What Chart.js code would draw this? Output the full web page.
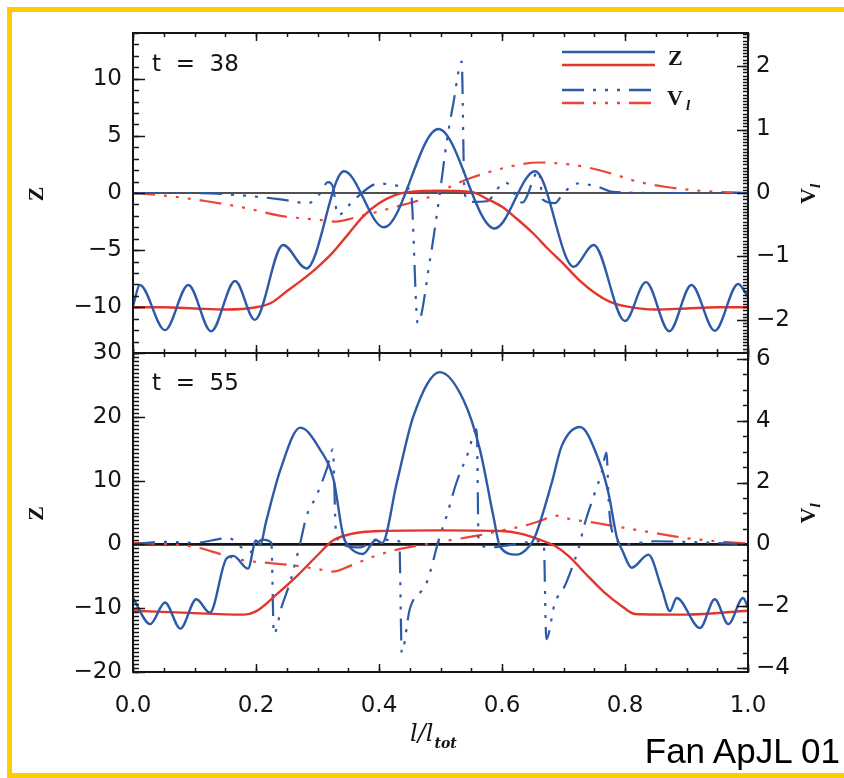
<!DOCTYPE html>
<html>
<head>
<meta charset="utf-8">
<title>Z and V_l along the tube</title>
<script src="https://cdn.jsdelivr.net/npm/chart.js@4.4.1/dist/chart.umd.min.js"></script>
<style>
  html, body { margin: 0; padding: 0; background: #fff; }
  body { width: 844px; height: 778px; position: relative; overflow: hidden; }
  #frame { position: absolute; left: 7px; top: 7px; width: 860px; height: 761px; border: 5px solid #ffcc00; }
  canvas { position: absolute; left: 0; top: 0; }
  #credit { position: absolute; right: 4px; top: 733px; font: 35px/35px "Liberation Sans", Arial, sans-serif; color: #000; }
</style>
</head>
<body>
<div id="frame"></div>
<canvas id="panel38" width="844" height="778"></canvas>
<canvas id="panel55" width="844" height="778"></canvas>
<div id="credit">Fan ApJL 01</div>

<script>
// ---------- t = 38 : positions along the tube (l/l_tot) and values ----------
const zBlue38X = [0, 0.011, 0.052, 0.09, 0.127, 0.166, 0.198, 0.244, 0.282, 0.343, 0.408, 0.4965, 0.588, 0.654, 0.7165, 0.749, 0.8, 0.834, 0.872, 0.908, 0.946, 0.984, 1];
const zBlue38 = [-9.9, -8.05, -12.0, -8.05, -12.1, -7.7, -11.1, -4.55, -6.6, 1.9, -3.0, 5.6, -3.1, 1.9, -6.45, -4.55, -11.2, -7.8, -12.1, -8.05, -12.05, -7.96, -9.1];

const zRed38X = [0, 0.05, 0.1, 0.15, 0.2, 0.225, 0.25, 0.275, 0.3, 0.325, 0.35, 0.375, 0.4, 0.425, 0.45, 0.5, 0.55, 0.575, 0.6, 0.625, 0.65, 0.675, 0.7, 0.725, 0.75, 0.775, 0.8, 0.85, 0.9, 0.95, 1];
const zRed38 = [-10, -10, -10.1, -10.2, -10, -9.6, -8.6, -7.6, -6.5, -5.2, -3.6, -2.0, -0.9, -0.2, 0.1, 0.2, 0.1, -0.5, -1.2, -2.3, -3.5, -4.9, -6.2, -7.6, -8.7, -9.5, -9.9, -10.2, -10.1, -10, -10];

const vBlue38X = [0, 0.1, 0.18, 0.24, 0.285, 0.303, 0.317, 0.325, 0.333, 0.36, 0.4, 0.44, 0.452, 0.463, 0.483, 0.499, 0.51, 0.521, 0.5345, 0.539, 0.55, 0.575, 0.605, 0.633, 0.66, 0.666, 0.686, 0.7, 0.723, 0.755, 0.78, 0.85, 1];
const vBlue38 = [0, 0, -0.04, -0.1, -0.16, -0.02, 0.17, 0.1, -0.35, -0.1, 0.15, 0.1, 0, -2.05, -1.05, 0, 0.8, 1.42, 2.07, 0, -0.14, -0.13, 0.17, -0.15, 0.35, -0.1, -0.16, 0, 0.15, 0.1, 0.02, 0, 0];

const vRed38X = [0, 0.06, 0.12, 0.18, 0.24, 0.3, 0.33, 0.36, 0.4, 0.43, 0.46, 0.485, 0.52, 0.55, 0.59, 0.63, 0.66, 0.71, 0.74, 0.78, 0.82, 0.87, 0.93, 1];
const vRed38 = [0, -0.05, -0.13, -0.23, -0.36, -0.42, -0.45, -0.39, -0.29, -0.21, -0.13, -0.05, 0.12, 0.24, 0.36, 0.45, 0.48, 0.45, 0.4, 0.3, 0.18, 0.09, 0.03, 0];

// ---------- t = 55 ----------
const zBlue55X = [0, 0.028, 0.052, 0.077, 0.103, 0.125, 0.152, 0.163, 0.187, 0.2, 0.207, 0.216, 0.24, 0.272, 0.304, 0.326, 0.342, 0.352, 0.374, 0.395, 0.405, 0.429, 0.456, 0.499, 0.537, 0.564, 0.586, 0.597, 0.624, 0.645, 0.654, 0.681, 0.697, 0.727, 0.757, 0.773, 0.787, 0.795, 0.811, 0.838, 0.86, 0.873, 0.884, 0.922, 0.946, 0.968, 0.992, 1];
const zBlue55 = [-8.4, -12.5, -9.1, -13.2, -8.6, -10.7, -2.2, -1.8, -3.8, 0.6, -0.1, 3.4, 11.8, 18.3, 14.9, 10.2, 1.3, -0.4, -1.5, 0.7, 0.2, 9.7, 20.1, 27.0, 22.7, 14.9, 4.4, -0.4, -1.6, -0.2, 1.3, 9.7, 15.4, 18.4, 13.3, 8.1, 1.0, -0.8, -3.65, -1.6, -7.0, -10.45, -8.4, -13.1, -8.6, -12.5, -8.4, -9.9];

const zRed55X = [0, 0.08, 0.18, 0.2, 0.234, 0.266, 0.3, 0.325, 0.353, 0.4, 0.5, 0.6, 0.63, 0.654, 0.687, 0.708, 0.74, 0.765, 0.795, 0.816, 0.9, 1];
const zRed55 = [-10.4, -10.7, -11.0, -10.5, -7.8, -5.0, -1.7, 0.6, 1.6, 2.1, 2.2, 2.1, 1.7, 1.0, -0.3, -1.8, -5.0, -7.4, -9.7, -10.9, -11.0, -10.4];

const vBlue55X = [0, 0.05, 0.1, 0.155, 0.19, 0.21, 0.225, 0.229, 0.242, 0.255, 0.272, 0.282, 0.298, 0.315, 0.325, 0.33, 0.34, 0.37, 0.395, 0.433, 0.437, 0.45, 0.4775, 0.499, 0.51, 0.526, 0.543, 0.559, 0.562, 0.58, 0.62, 0.66, 0.668, 0.672, 0.686, 0.702, 0.713, 0.724, 0.735, 0.751, 0.762, 0.77, 0.774, 0.785, 0.8, 0.85, 0.9, 1];
const vBlue55 = [0, 0.08, 0.05, 0.2, -0.25, 0.15, 0.05, -2.9, -2.0, -1.25, 0.05, 0.9, 1.56, 2.43, 3.07, 0.4, 0, -0.1, 0.15, 0.1, -3.5, -2.1, -1.24, 0.27, 0.92, 2.0, 2.86, 3.72, 0.1, -0.1, 0, 0.1, 0, -3.07, -1.9, -1.35, -0.8, -0.16, 0.7, 1.67, 2.32, 2.97, 1.2, 0.2, 0, 0.1, 0.08, 0];

const vRed55X = [0, 0.06, 0.1, 0.14, 0.175, 0.22, 0.26, 0.3, 0.325, 0.35, 0.39, 0.43, 0.475, 0.51, 0.56, 0.6, 0.64, 0.665, 0.687, 0.71, 0.75, 0.8, 0.85, 0.9, 0.95, 1];
const vRed55 = [0.05, 0, -0.08, -0.3, -0.5, -0.6, -0.68, -0.8, -0.88, -0.72, -0.4, -0.17, 0, 0.12, 0.28, 0.45, 0.62, 0.78, 0.93, 0.82, 0.7, 0.53, 0.36, 0.2, 0.1, 0.03];

// axis tick steps
const xTickStep = 0.2;
const zTickStep38 = 5, vTickStep38 = 1;
const zTickStep55 = 10, vTickStep55 = 2;

const BLUE = '#2d5aa8';
const RED = '#e5352b';
const RED_DASH = '#ec4638';
const INK = '#161616';
const TEXT = '#151515';
const DASH = [22, 9, 3, 9, 3, 9, 3, 9];
const TICK_FONT = { family: '"DejaVu Sans", sans-serif', size: 23 };

const pts = (xs, ys) => xs.map((x, i) => ({ x, y: ys[i] }));
const fmt = v => (v < 0 ? '\u2212' + Math.abs(v) : String(v));

// frame, inward tick marks, labels and legend
const panelDecor = {
  id: 'panelDecor',
  afterDatasetsDraw(chart, args, o) {
    const { ctx, chartArea: a } = chart;
    const { x, yL, yR } = chart.scales;
    ctx.save();
    ctx.strokeStyle = INK;
    ctx.lineWidth = 1.5;
    const sets = [[x, o.xTicks], [yL, o.yLTicks], [yR, o.yRTicks]];
    sets.forEach(([scale, spec]) => {
      [[spec.minor, spec.minorLen], [spec.major, spec.majorLen]].forEach(([step, len]) => {
        const first = Math.ceil(scale.min / step - 1e-6);
        const last = Math.floor(scale.max / step + 1e-6);
        ctx.beginPath();
        for (let k = first; k <= last; k++) {
          const p = Math.round(scale.getPixelForValue(k * step)) + 0.5;
          if (scale === x) {
            ctx.moveTo(p, a.top); ctx.lineTo(p, a.top + len);
            ctx.moveTo(p, a.bottom); ctx.lineTo(p, a.bottom - len);
          } else if (scale === yL) {
            ctx.moveTo(a.left, p); ctx.lineTo(a.left + len, p);
          } else {
            ctx.moveTo(a.right, p); ctx.lineTo(a.right - len, p);
          }
        }
        ctx.stroke();
      });
    });
    ctx.lineWidth = 2;
    ctx.strokeRect(a.left, a.top, a.right - a.left, a.bottom - a.top);

    // time stamp
    ctx.fillStyle = TEXT;
    ctx.font = '23px "DejaVu Sans"';
    ctx.textBaseline = 'alphabetic';
    ctx.textAlign = 'left';
    ctx.fillText(o.stamp, 152, o.stampY);

    // axis titles, both read bottom-to-top
    const midY = (a.top + a.bottom) / 2;
    ctx.font = 'bold 22px "Liberation Serif"';
    ctx.save();
    ctx.translate(37, midY + 1);
    ctx.rotate(-Math.PI / 2);
    ctx.textAlign = 'center';
    ctx.textBaseline = 'middle';
    ctx.fillText('Z', 0, 0);
    ctx.restore();

    ctx.save();
    ctx.translate(809, midY + 2);
    ctx.rotate(-Math.PI / 2);
    ctx.textBaseline = 'middle';
    ctx.textAlign = 'left';
    ctx.font = 'bold 22px "Liberation Serif"';
    ctx.fillText('V', -9, 0);
    ctx.font = 'italic bold 15px "Liberation Serif"';
    ctx.fillText('l', 7, 7);
    ctx.restore();

    if (o.legend) {
      const rows = [
        [52, BLUE, []], [65, RED, []],
        [90, BLUE, DASH], [103, RED_DASH, DASH]
      ];
      rows.forEach(([y, col, dash]) => {
        ctx.beginPath();
        ctx.setLineDash(dash);
        ctx.strokeStyle = col;
        ctx.lineWidth = 2.4;
        ctx.moveTo(562, y); ctx.lineTo(655, y);
        ctx.stroke();
      });
      ctx.setLineDash([]);
      ctx.fillStyle = TEXT;
      ctx.textAlign = 'left';
      ctx.textBaseline = 'alphabetic';
      ctx.font = 'bold 22px "Liberation Serif"';
      ctx.fillText('Z', 668, 65);
      ctx.fillText('V', 667, 105);
      ctx.font = 'italic bold 15px "Liberation Serif"';
      ctx.fillText('l', 686, 110);
    }

    if (o.xTitle) {
      ctx.fillStyle = TEXT;
      ctx.textAlign = 'left';
      ctx.textBaseline = 'alphabetic';
      ctx.font = 'italic 24px "DejaVu Serif"';
      ctx.fillText('l/l', 410, 741);
      const w = ctx.measureText('l/l').width;
      ctx.font = 'italic bold 14px "DejaVu Serif"';
      ctx.fillText('tot', 410 + w + 1, 748);
    }
    ctx.restore();
  }
};

function datasets(zBlue, zRed, vBlue, vRed, zeroWidth) {
  return [
    { data: zBlue, borderColor: BLUE, borderWidth: 2.4, yAxisID: 'yL', order: 1 },
    { data: zRed, borderColor: RED, borderWidth: 2.4, yAxisID: 'yL', order: 2 },
    { data: vBlue, borderColor: BLUE, borderWidth: 2.2, borderDash: DASH, yAxisID: 'yR', order: 3 },
    { data: vRed, borderColor: RED_DASH, borderWidth: 2.2, borderDash: DASH, yAxisID: 'yR', order: 4 },
    { data: [{ x: 0, y: 0 }, { x: 1, y: 0 }], borderColor: INK, borderWidth: zeroWidth, yAxisID: 'yL', order: 5 }
  ];
}

function panel(id, cfg) {
  return new Chart(document.getElementById(id), {
    type: 'line',
    data: { datasets: cfg.datasets },
    options: {
      responsive: false,
      animation: false,
      layout: { padding: cfg.padding },
      elements: { point: { radius: 0 }, line: { cubicInterpolationMode: 'monotone' } },
      plugins: { legend: { display: false }, tooltip: { enabled: false }, panelDecor: cfg.decor },
      scales: {
        x: {
          type: 'linear', min: 0, max: 1, display: cfg.showX,
          grid: { display: false, drawTicks: false }, border: { display: false },
          ticks: { stepSize: xTickStep, includeBounds: false, maxRotation: 0, autoSkip: false,
                   padding: 20, color: TEXT, font: TICK_FONT, callback: v => v.toFixed(1) },
          afterFit: s => { s.height = cfg.showX ? 106 : 0; }
        },
        yL: {
          position: 'left', min: cfg.zRange[0], max: cfg.zRange[1],
          grid: { display: false, drawTicks: false }, border: { display: false },
          ticks: { stepSize: cfg.zStep, includeBounds: false, padding: 11, color: TEXT, font: TICK_FONT, callback: fmt },
          afterFit: s => { s.width = 133; }
        },
        yR: {
          position: 'right', min: cfg.vRange[0], max: cfg.vRange[1],
          grid: { display: false, drawTicks: false }, border: { display: false },
          ticks: { stepSize: cfg.vStep, includeBounds: false, padding: 8, color: TEXT, font: TICK_FONT, callback: fmt },
          afterFit: s => { s.width = 96; }
        }
      }
    },
    plugins: [panelDecor]
  });
}

// upper panel, t = 38
panel('panel38', {
  datasets: datasets(pts(zBlue38X, zBlue38), pts(zRed38X, zRed38), pts(vBlue38X, vBlue38), pts(vRed38X, vRed38), 1.5),
  padding: { top: 33, bottom: 425, left: 0, right: 0 },
  showX: false,
  zRange: [-14, 14], zStep: zTickStep38,
  vRange: [-2.52, 2.52], vStep: vTickStep38,
  decor: {
    stamp: 't  =  38', stampY: 71, legend: true, xTitle: false,
    xTicks: { major: 0.2, minor: 0.05, majorLen: 8, minorLen: 4 },
    yLTicks: { major: 5, minor: 1, majorLen: 12, minorLen: 6 },
    yRTicks: { major: 1, minor: 0.05, majorLen: 11, minorLen: 5 }
  }
});

// lower panel, t = 55
panel('panel55', {
  datasets: datasets(pts(zBlue55X, zBlue55), pts(zRed55X, zRed55), pts(vBlue55X, vBlue55), pts(vRed55X, vRed55), 2.6),
  padding: { top: 353, bottom: 0, left: 0, right: 0 },
  showX: true,
  zRange: [-20, 30], zStep: zTickStep55,
  vRange: [-4.13, 6.19], vStep: vTickStep55,
  decor: {
    stamp: 't  =  55', stampY: 390, legend: false, xTitle: true,
    xTicks: { major: 0.2, minor: 0.05, majorLen: 8, minorLen: 4 },
    yLTicks: { major: 10, minor: 0.625, majorLen: 12, minorLen: 6 },
    yRTicks: { major: 2, minor: 0.5, majorLen: 11, minorLen: 5 }
  }
});
</script>
</body>
</html>
